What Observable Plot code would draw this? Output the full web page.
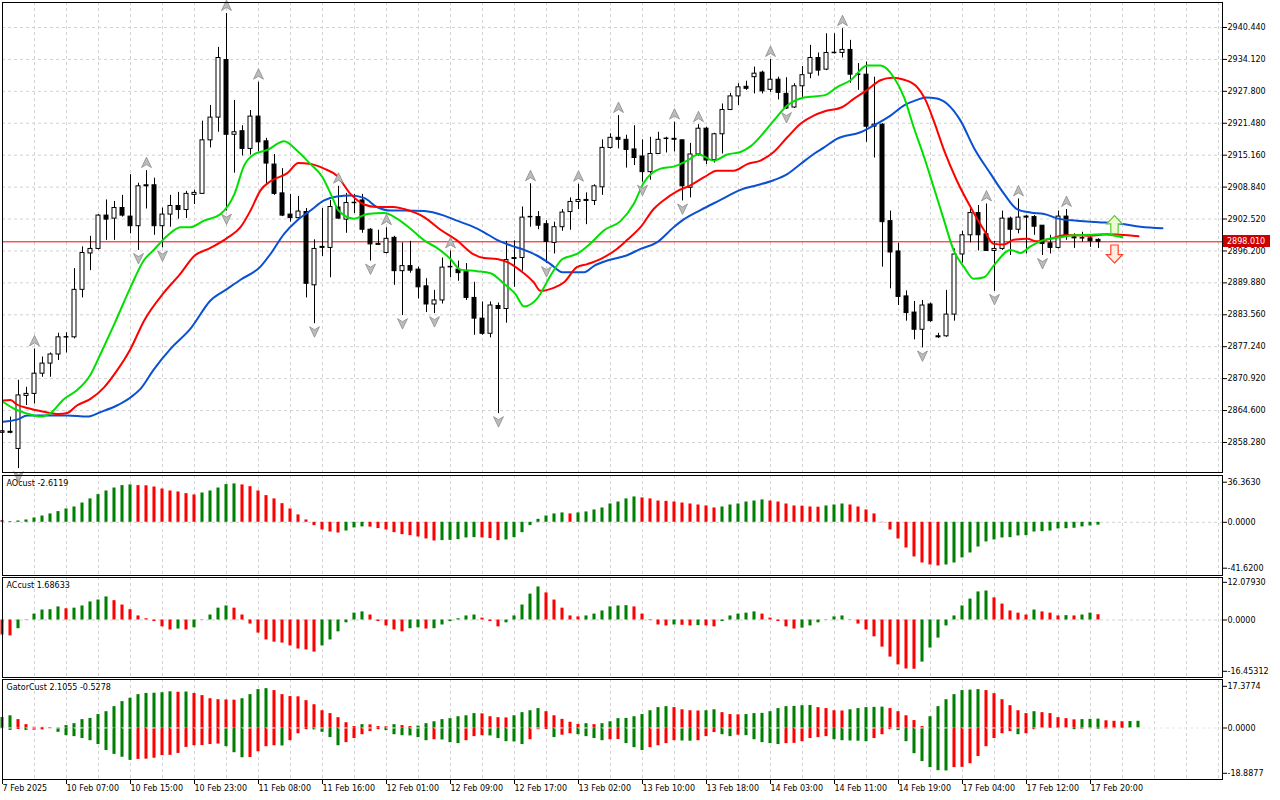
<!DOCTYPE html>
<html><head><meta charset="utf-8">
<script src="https://cdn.jsdelivr.net/npm/d3@7"></script>
<script src="https://cdn.jsdelivr.net/npm/@observablehq/plot@0.6"></script>
<style>
html,body{margin:0;padding:0;background:#fff;}
#wrap{position:relative;width:1280px;height:800px;overflow:hidden;background:#fff;}
#wrap svg{position:absolute;left:0;}
</style></head><body><div id="wrap"></div>
<script>
// ---------- DATA ----------
const open = [2860.2,2860.4,2857.0,2867.5,2867.9,2871.9,2873.9,2875.7,2879.1,2879.1,
2888.5,2895.7,2896.6,2903.2,2902.6,2904.7,2903.0,2901.1,2909.2,2909.2,
2901.1,2903.4,2905.1,2904.3,2907.3,2907.5,2918.1,2922.6,2934.0,2919.2,
2919.9,2916.4,2922.8,2917.9,2913.3,2907.6,2903.4,2902.7,2903.9,2889.4,
2896.8,2896.8,2904.8,2902.4,2905.9,2906.2,2900.4,2897.6,2895.8,2898.8,
2892.2,2893.2,2892.5,2889.2,2885.6,2886.4,2893.0,2892.5,2892.0,2886.9,
2882.8,2879.8,2885.3,2884.7,2894.6,2894.8,2902.9,2902.9,2901.5,2897.8,
2900.9,2903.9,2905.9,2906.3,2906.1,2908.8,2916.6,2918.6,2918.2,2916.3,
2914.9,2911.8,2915.4,2918.4,2918.2,2918.1,2908.7,2915.3,2920.4,2914.2,
2919.3,2924.1,2926.8,2928.7,2930.6,2931.5,2928.1,2930.1,2927.3,2924.6,
2928.8,2931.3,2934.4,2932.1,2935.4,2935.4,2936.0,2931.1,2931.1,2920.8,
2921.2,2902.1,2896.1,2887.2,2884.0,2880.6,2885.6,2879.3,2879.3,2883.6,
2895.5,2899.3,2903.7,2899.5,2896.2,2896.6,2902.6,2900.4,2903.0,2902.9,
2901.2,2897.7,2896.8,2903.0,2898.9,2898.7,2898.7,2898.4];
const high = [2860.8,2863.3,2870.6,2869.2,2876.8,2875.2,2876.0,2879.9,2880.0,2892.7,
2897.0,2899.1,2903.4,2906.3,2906.0,2907.2,2911.3,2909.6,2912.1,2910.6,
2904.7,2907.2,2907.8,2908.0,2908.2,2921.9,2925.0,2936.5,2943.2,2926.0,
2921.0,2924.0,2929.6,2918.5,2915.3,2912.5,2907.4,2907.0,2904.6,2898.4,
2904.6,2906.2,2909.0,2907.6,2907.4,2907.4,2900.6,2900.3,2900.8,2899.1,
2897.8,2898.1,2893.0,2890.7,2888.4,2894.8,2896.2,2894.2,2893.7,2890.0,
2886.1,2886.1,2885.9,2898.1,2898.2,2904.9,2909.5,2904.0,2902.2,2901.9,
2904.4,2906.7,2909.4,2907.7,2909.3,2918.2,2919.4,2923.0,2919.1,2921.0,
2918.2,2918.7,2919.7,2918.7,2921.7,2918.2,2917.5,2921.2,2920.7,2919.5,
2925.3,2927.4,2929.3,2929.8,2932.6,2931.8,2934.1,2930.6,2930.5,2929.3,
2932.7,2936.9,2935.4,2939.2,2939.2,2940.2,2937.9,2933.3,2933.6,2930.6,
2921.4,2904.1,2897.7,2888.3,2886.2,2886.4,2885.9,2879.9,2888.4,2896.6,
2900.1,2904.9,2905.2,2905.5,2898.1,2904.1,2902.9,2906.5,2903.2,2903.2,
2901.2,2899.3,2904.1,2904.4,2899.6,2899.9,2899.2,2898.6];
const low = [2860.0,2860.0,2853.1,2865.6,2865.9,2871.2,2871.2,2874.5,2876.0,2878.8,
2886.9,2892.3,2896.4,2898.3,2898.3,2902.9,2899.6,2896.3,2904.5,2899.3,
2896.8,2900.9,2902.5,2902.6,2905.4,2907.4,2916.6,2919.7,2904.1,2911.6,
2915.0,2915.2,2915.8,2909.2,2907.2,2903.0,2901.9,2902.5,2886.9,2881.8,
2895.1,2890.9,2902.5,2899.7,2903.6,2899.7,2894.2,2897.3,2895.6,2889.4,
2883.4,2891.8,2886.7,2884.0,2883.8,2885.7,2890.9,2890.2,2886.4,2879.5,
2879.5,2879.0,2864.0,2881.9,2889.0,2892.2,2900.9,2900.4,2893.7,2895.6,
2900.1,2900.3,2904.4,2901.4,2905.2,2907.2,2916.4,2916.4,2912.6,2913.1,
2909.8,2910.2,2915.4,2915.6,2915.8,2906.1,2906.7,2914.9,2913.3,2913.6,
2915.4,2924.0,2925.0,2928.0,2927.3,2927.3,2927.6,2926.1,2924.2,2924.4,
2926.6,2930.3,2930.8,2931.9,2935.2,2934.4,2929.4,2928.0,2917.7,2914.6,
2893.0,2888.7,2885.4,2882.3,2878.6,2877.0,2882.1,2878.9,2879.1,2882.3,
2893.8,2897.8,2896.2,2896.2,2888.2,2896.3,2895.3,2899.6,2895.6,2899.3,
2895.3,2895.6,2896.6,2898.3,2896.7,2897.9,2896.9,2896.7];
const close = [2860.5,2860.2,2867.6,2867.9,2871.9,2873.9,2875.7,2879.1,2879.2,2888.5,
2895.8,2896.6,2903.2,2902.4,2904.7,2903.2,2901.1,2909.0,2909.0,2901.1,
2903.4,2905.1,2904.3,2907.5,2907.7,2918.1,2922.6,2934.4,2919.2,2919.7,
2916.4,2922.8,2917.7,2913.5,2907.5,2903.2,2902.7,2904.0,2889.7,2896.6,
2897.0,2904.9,2902.6,2905.7,2905.8,2900.4,2897.5,2897.4,2898.6,2892.2,
2893.2,2892.3,2889.0,2885.6,2886.4,2892.9,2893.1,2891.8,2886.9,2882.8,
2879.8,2885.4,2884.7,2894.4,2894.8,2902.8,2903.0,2901.2,2898.0,2900.9,
2903.8,2905.9,2906.3,2906.1,2909.0,2916.6,2918.6,2918.2,2916.2,2914.6,
2911.8,2915.4,2918.2,2918.5,2918.4,2909.0,2915.3,2920.4,2914.1,2919.3,
2924.1,2926.8,2928.6,2928.3,2931.3,2927.8,2930.1,2927.5,2924.4,2928.8,
2931.0,2934.4,2931.9,2935.4,2935.5,2936.0,2931.1,2931.2,2920.8,2921.2,
2901.9,2895.9,2887.1,2883.9,2880.6,2885.4,2882.3,2879.1,2883.6,2895.5,
2899.3,2903.7,2899.3,2896.2,2896.6,2902.6,2900.4,2902.8,2902.8,2901.0,
2897.6,2896.8,2903.0,2899.3,2898.7,2898.8,2898.1,2898.0];

// Alligator lines, read as [bar index, price]
const jawPts = [[0.1,2862.4],[1.8,2862.8],[3.1,2863.6],[5.6,2863.6],[8.1,2863.6],[10.6,2863.4],[12.25,2864.3],[14.3,2865.6],[16,2867.2],[17.25,2868.9],[18.9,2872.7],[21,2876.8],[23.5,2880.8],[26,2886.4],[28.1,2888.7],[29.75,2890.5],[32.25,2893.1],[33.5,2895.6],
[35.2,2899.6],[36.8,2902.2],[38.5,2904.2],[40.2,2906.2],[41.8,2907.0],[43.5,2907.2],[45.2,2906.7],[46.8,2904.9],[48.5,2904.2],[50.2,2904.2],[52.7,2904.1],[55.2,2903.2],[56.8,2902.2],[58.5,2901.2],[60.2,2899.9],[61.8,2898.4],[63.5,2897.3],[65.2,2896.4],[66.8,2895.3],[68.5,2893.6],
[70,2892.0],[72.7,2892.0],[74,2893.3],[75.6,2894.3],[78,2895.3],[79.75,2896.6],[81.8,2897.9],[83.9,2900.9],[85.2,2902.5],[87.25,2904.3],[89.75,2906.3],[92.25,2908.3],[94.3,2909.2],[96.4,2910.2],[98.1,2911.4],[99.75,2913.4],[101.4,2915.4],
[102.7,2916.7],[104.3,2918.4],[107.25,2919.7],[109.3,2921.4],[111,2923.0],[112.7,2925.0],[114.3,2926.1],[115.4,2926.6],[116.8,2926.4],[118.1,2925.3],[119.75,2922.0],[121.4,2916.7],[123.5,2911.5],[125.2,2907.5],[126.8,2904.5],[128.5,2903.8],[130.2,2903.5],[132.25,2902.5],[134.3,2902.2],[136,2902.0],
[137,2901.9],[139.75,2901.6],[142.25,2901.0],[145,2900.7]];
const teethPts = [[0.1,2866.6],[1,2866.7],[1.8,2865.8],[3.1,2865.1],[5,2864.4],[7,2863.9],[8.1,2864.1],[9.3,2865.6],[11,2866.9],[12.7,2869.2],[14.3,2872.5],[16,2876.8],[17.7,2882.4],[20.2,2888.0],[22.25,2891.7],[23.9,2895.1],[26,2896.8],[28.1,2898.8],[29.75,2900.9],[31,2904.2],[32.25,2908.2],[33.5,2910.0],
[35.6,2911.6],[37,2913.6],[38.5,2913.4],[40.2,2912.5],[41.8,2911.1],[43.5,2907.5],[45.2,2905.4],[46.8,2904.9],[48.9,2904.9],[50.2,2904.5],[52.7,2902.9],[54.75,2900.4],[56.8,2898.3],[58.9,2895.5],[60.2,2894.8],[61.8,2894.6],[63.1,2894.0],[64.75,2892.3],[66.4,2890.0],[67.25,2888.3],[68.9,2888.9],
[70.2,2890.0],[71.8,2893.0],[73.1,2893.6],[74.75,2894.6],[76.8,2896.6],[78.1,2898.4],[79.75,2900.9],[81.4,2904.5],[82.7,2906.3],[84.3,2908.0],[86,2909.2],[87.7,2910.8],[89.3,2912.1],[91.4,2912.1],[93.1,2913.4],[94.75,2914.1],[96.4,2915.8],[98.1,2918.7],[99.75,2921.4],[101.4,2923.0],
[102.7,2923.8],[105,2924.7],[106.4,2926.3],[108.1,2928.1],[109.75,2930.0],[111.2,2930.5],[112.7,2930.1],[114.1,2929.0],[115.4,2926.0],[116.4,2922.0],[117.7,2916.1],[119.3,2910.1],[121,2904.9],[122.7,2900.3],[123.9,2897.6],[125.2,2897.5],[126.4,2898.4],[128.1,2898.6],[129.3,2898.1],[131,2898.6],[132.7,2899.3],[134.3,2899.3],[136,2899.2],
[138,2899.5],[139.75,2899.4],[142,2899.1]];
const lipsPts = [[0.1,2866.3],[1.3,2865.1],[3.1,2864.0],[4.75,2863.4],[6,2864.1],[7.7,2866.9],[9.3,2868.6],[11,2871.7],[12.25,2875.8],[14,2881.8],[16,2889.0],[17.7,2894.4],[18.9,2896.4],[20.6,2899.2],[22.25,2900.9],[23.5,2900.9],[25.2,2902.2],[27.25,2903.5],[29,2907.5],[30.2,2913.1],[31.4,2915.3],[33.1,2916.2],
[35.2,2917.9],[36.8,2916.1],[38.5,2913.4],[40,2910.8],[41.2,2906.9],[42,2904.2],[43.9,2902.6],[45.6,2903.5],[47.7,2903.7],[49.3,2902.6],[51,2900.6],[52.7,2898.3],[54.3,2896.8],[56,2894.6],[57.25,2892.5],[59.3,2892.2],[61,2891.8],[62.7,2889.7],[64.1,2887.7],[65.2,2885.2],[66.8,2886.7],
[68.5,2891.3],[70,2894.6],[71.8,2895.6],[73.5,2897.7],[75.2,2900.3],[77.25,2902.1],[78.9,2905.5],[80.2,2909.8],[82.25,2912.5],[83.9,2912.9],[85.6,2914.1],[87,2915.3],[88.9,2914.1],[90.6,2915.3],[92.25,2915.8],[93.5,2916.9],[95.2,2919.7],[96.4,2922.0],[98.1,2925.0],[100.2,2926.6],
[102.7,2927.0],[104.3,2928.6],[106,2930.0],[108.1,2932.9],[109.75,2932.9],[111.4,2930.6],[112.7,2926.6],[113.9,2920.7],[115.2,2914.8],[116.4,2908.8],[117.7,2902.2],[118.9,2896.3],[120.2,2893.0],[121.4,2890.7],[122.7,2891.0],[123.9,2893.3],[126,2896.4],[127.25,2895.8],[128.5,2897.1],[130.2,2898.4],[131.8,2898.8],[133.9,2899.3],[136,2899.4],
[137.5,2899.5],[140,2898.9]];

const fractalUp = [4,18,28,32,42,48,56,66,72,77,84,87,96,105,123,127,133];
const fractalDown = [2,17,20,28,39,46,50,54,62,68,80,85,98,115,124,130];
const signals = [{i:139, price:2901.4, dir:"up"}, {i:139, price:2895.6, dir:"down"}];
const lastPrice = 2898.01;

const priceTicks = [2858.28,2864.60,2870.92,2877.24,2883.56,2889.88,2896.20,2902.52,2908.84,2915.16,2921.48,2927.80,2934.12,2940.44];

const ao = [1.5,0.6,1.2,2.1,3.9,5.7,7.6,9.7,12.1,13.9,
17.5,21.2,25.1,28.4,31.1,33.3,33.9,33.3,33.1,32.0,
30.2,28.4,27.5,26.0,24.8,26.6,28.4,31.1,34.2,34.8,
33.9,32.3,28.4,24.2,21.2,16.9,12.1,6.7,2.1,-3.0,
-7.0,-8.8,-9.7,-7.9,-5.1,-4.2,-4.4,-5.7,-7.0,-9.4,
-11.2,-12.1,-13.3,-15.1,-16.9,-16.6,-16.4,-15.7,-14.2,-13.9,
-14.1,-14.8,-16.6,-16.0,-13.9,-9.4,-3.0,2.7,5.7,7.6,
8.5,7.6,8.5,9.4,11.2,13.0,16.6,18.4,21.2,23.0,
22.1,21.2,19.3,19.0,18.4,17.5,16.6,15.7,14.8,13.0,
13.9,15.7,16.6,18.4,19.3,20.3,19.3,18.4,16.6,14.8,
14.6,13.9,13.7,14.8,15.7,16.6,15.7,13.9,11.2,7.6,
-0.3,-7.0,-15.1,-23.3,-31.4,-36.9,-38.7,-39.6,-38.7,-36.9,
-32.3,-27.8,-22.4,-17.8,-16.0,-14.2,-13.9,-12.4,-12.1,-8.8,
-8.5,-7.9,-6.0,-5.8,-5.4,-4.2,-3.3,-2.6];
const ac = [-4.8,-5.1,-2.8,0.1,1.9,3.2,3.3,4.2,3.6,3.8,
4.5,5.8,6.4,7.4,6.2,4.8,3.3,1.3,0.4,-0.5,
-2.2,-3.2,-2.9,-3.2,-2.5,-0.1,1.6,3.8,4.5,3.8,
1.6,-1.3,-4.2,-6.4,-7.1,-7.4,-8.3,-9.3,-9.6,-10.3,
-8.3,-6.4,-3.8,-0.9,2.2,2.6,1.6,-0.5,-1.9,-3.2,
-3.8,-2.8,-2.5,-2.9,-2.8,-1.6,-0.5,0.4,1.3,1.6,
0.6,-0.5,-2.2,-0.9,1.3,4.8,8.3,10.6,8.7,6.4,
3.8,1.3,1.0,1.3,1.9,2.9,4.2,4.5,4.6,4.2,
1.9,-0.2,-1.6,-1.9,-1.6,-1.7,-1.9,-1.8,-1.9,-2.2,
-0.5,1.3,1.9,2.2,2.6,1.9,0.6,-0.5,-2.2,-2.9,
-2.6,-1.9,-0.9,-0.1,1.0,1.3,-0.1,-1.3,-3.2,-5.4,
-8.7,-11.9,-14.4,-15.7,-15.8,-13.5,-9.0,-5.8,-1.9,1.3,
4.5,6.7,9.0,9.3,7.1,5.1,2.9,2.2,1.6,3.2,
2.6,2.2,1.3,1.4,1.3,1.6,2.2,1.69];
const gatorUp = [4.4,5.1,3.5,1.4,0.3,0.25,0.1,0.0,1.0,1.8,
3.5,4.0,5.6,6.8,8.9,11.0,12.4,13.9,14.4,14.5,
14.7,15.1,14.9,15.0,14.4,13.5,12.2,11.8,11.7,11.6,
12.2,13.9,16.0,16.4,15.6,13.9,13.1,13.0,11.4,9.7,
7.2,6.0,4.3,2.2,0.6,1.4,1.3,0.6,0.5,1.4,
1.0,0.6,0.8,1.8,2.6,3.5,3.9,4.7,5.1,6.0,
5.9,4.7,4.3,4.2,5.1,6.4,7.2,8.1,6.8,5.1,
3.6,2.4,1.5,1.8,1.4,1.8,2.6,3.9,4.0,4.7,
5.6,7.2,8.5,8.9,8.5,7.6,7.2,7.1,7.2,7.6,
6.4,5.6,5.5,5.6,6.0,6.1,6.8,8.1,8.9,9.0,
9.3,9.4,8.5,8.1,7.2,7.1,7.6,8.1,8.5,8.6,
8.7,8.1,6.8,5.1,3.1,0.6,4.7,8.9,11.8,13.9,
15.6,15.8,16.0,15.6,14.3,11.8,9.3,7.2,6.0,6.8,
6.4,6.0,4.3,3.9,3.4,3.5,3.6,3.7,3.0,2.8,
2.6,2.7,2.8];
const gatorDown = [0.3,1.0,0.6,1.0,0.9,0.8,0.3,1.8,3.2,3.6,
4.4,5.3,6.9,9.4,11.0,12.2,13.5,13.1,13.0,12.6,
11.5,11.4,10.6,8.1,7.4,7.3,6.9,6.7,7.8,10.3,
12.4,12.3,9.9,7.8,7.4,7.5,5.3,2.4,0.7,0.8,
1.8,4.0,7.4,6.1,4.4,2.8,1.5,0.7,1.1,2.8,
3.2,3.3,4.0,5.3,4.9,5.0,6.1,6.5,5.3,3.6,
3.2,3.3,4.4,5.7,5.8,6.9,4.9,0.7,0.6,4.0,
3.0,2.4,2.8,3.6,4.4,5.3,4.9,4.8,6.5,8.2,
9.4,8.2,7.4,6.5,5.3,5.4,5.5,5.3,3.6,1.9,
2.8,3.6,3.0,3.2,4.9,6.1,6.5,6.9,6.5,6.4,
5.7,4.4,4.0,3.6,4.9,5.3,5.4,5.5,5.7,4.4,
2.8,0.7,1.1,5.7,10.7,14.0,16.5,17.8,17.9,16.5,
16.4,14.9,11.9,7.8,4.4,2.4,1.5,2.8,2.4,0.7,
0.1,0.2,0.1,0.05,0.7,0.5,0.3,0.5,0.4,0.3,
0.2];

const aoTicks = [36.363, 0, -41.62], aoTickText = ["36.3630","0.0000","-41.6200"];
const acTicks = [12.0793, 0, -16.45312], acTickText = ["12.07930","0.0000","-16.45312"];
const gatorTicks = [17.3774, 0, -18.8877], gatorTickText = ["17.3774","0.0000","-18.8877"];

const timeIdx = [0,8,16,24,32,40,48,56,64,72,80,88,96,104,112,120,128,136];
const timeLabels = ["7 Feb 2025","10 Feb 07:00","10 Feb 15:00","10 Feb 23:00","11 Feb 08:00","11 Feb 16:00","12 Feb 01:00","12 Feb 09:00","12 Feb 17:00","13 Feb 02:00","13 Feb 10:00","13 Feb 18:00","14 Feb 03:00","14 Feb 11:00","14 Feb 19:00","17 Feb 04:00","17 Feb 12:00","17 Feb 20:00"];

// ---------- BUILD ----------
const GREEN = "#008000", RED = "#ff0000";
const GRID = "#d2d2d2";
const FONT = '"DejaVu Sans", sans-serif';
function trendColors(vals, startUp) {
  let up = startUp;
  return vals.map((v, i) => {
    if (i > 0) { if (v > vals[i-1]) up = true; else if (v < vals[i-1]) up = false; }
    return up ? GREEN : RED;
  });
}
const candles = open.map((o, i) => ({i, open:o, high:high[i], low:low[i], close:close[i]}));
const gridIdx = d3.range(4, 153, 4);
const XDOM = [0, 152.5];
const style = {fontFamily: FONT, fontSize: "8px", background: "transparent", overflow: "visible", color: "black"};
const wrap = document.getElementById("wrap");

function sym(points) {
  return {draw(ctx, size) {
    const s = Math.sqrt(size / Math.PI);
    points.forEach(([px, py], k) => k ? ctx.lineTo(px*s, py*s) : ctx.moveTo(px*s, py*s));
    ctx.closePath();
  }};
}
const fracUpSym = sym([[0,-1],[0.9,0.9],[0,0.35],[-0.9,0.9]]);
const fracDnSym = sym([[0,1],[0.9,-0.9],[0,-0.35],[-0.9,-0.9]]);
const blockUpSym = sym([[0,-1],[0.9,-0.08],[0.41,-0.08],[0.41,1],[-0.41,1],[-0.41,-0.08],[-0.9,-0.08]]);
const blockDnSym = sym([[0,1],[0.9,0.08],[0.41,0.08],[0.41,-1],[-0.41,-1],[-0.41,0.08],[-0.9,0.08]]);

function place(svg, top) { svg.style.top = top + "px"; wrap.appendChild(svg); return svg; }

// Main price panel
const main = Plot.plot({
  width: 1280, height: 474, marginLeft: 2, marginRight: 58, marginTop: 2, marginBottom: 2,
  style, color: {type: "identity"},
  x: {domain: XDOM, axis: null},
  y: {domain: [2852.337, 2945.389], label: null},
  marks: [
    Plot.ruleX(gridIdx, {stroke: GRID, strokeDasharray: "3,3"}),
    Plot.ruleY(priceTicks, {stroke: GRID, strokeDasharray: "3,3"}),
    Plot.ruleY([lastPrice], {stroke: "#ff0000", strokeWidth: 1}),
    Plot.ruleX(candles, {x: "i", y1: "low", y2: "high", stroke: "black"}),
    Plot.rect(candles.filter(d => Math.abs(d.close - d.open) >= 0.15), {
      x1: d => d.i - 0.25, x2: d => d.i + 0.25, y1: "open", y2: "close",
      fill: d => d.close >= d.open ? "white" : "black", stroke: "black", strokeWidth: 1}),
    Plot.ruleY(candles.filter(d => Math.abs(d.close - d.open) < 0.15), {
      x1: d => d.i - 0.3, x2: d => d.i + 0.3, y: "close", stroke: "black", strokeWidth: 1.5}),
    Plot.line(jawPts, {x: d => d[0], y: d => d[1], stroke: "#0a50d2", strokeWidth: 2, curve: "monotone-x"}),
    Plot.line(teethPts, {x: d => d[0], y: d => d[1], stroke: "#ff0000", strokeWidth: 2, curve: "monotone-x"}),
    Plot.line(lipsPts, {x: d => d[0], y: d => d[1], stroke: "#00e000", strokeWidth: 2, curve: "monotone-x"}),
    Plot.dot(fractalUp.map(i => candles[i]), {x: "i", y: "high", dy: -8, r: 5.5, symbol: fracUpSym, fill: "#bcbcbc", stroke: "#8a8a8a", strokeWidth: 0.8}),
    Plot.dot(fractalDown.map(i => candles[i]), {x: "i", y: "low", dy: 8, r: 5.5, symbol: fracDnSym, fill: "#bcbcbc", stroke: "#8a8a8a", strokeWidth: 0.8}),
    Plot.dot(signals.filter(d => d.dir === "up"), {x: "i", y: "price", r: 9, symbol: blockUpSym, fill: "#eefad0", stroke: "#5cc83c", strokeWidth: 1.2}),
    Plot.dot(signals.filter(d => d.dir === "down"), {x: "i", y: "price", r: 9, symbol: blockDnSym, fill: "#ffeedd", stroke: "#ff4030", strokeWidth: 1.2}),
    Plot.frame({stroke: "black"}),
    Plot.axisY(priceTicks, {anchor: "right", tickSize: 4, tickPadding: 1, tickFormat: d => d.toFixed(3), label: null})
  ]
});
place(main, 0);
{
  const yv = main.scale("y").apply(lastPrice);
  const s = d3.select(main);
  s.append("rect").attr("x", 1223).attr("y", Math.round(yv) - 6).attr("width", 47).attr("height", 12).attr("fill", "#cc0000");
  s.append("text").attr("x", 1227).attr("y", yv).attr("dy", "0.34em").attr("fill", "white")
    .attr("text-anchor", "start").style("text-anchor", "start")
    .attr("font-family", FONT).attr("font-size", 8).text(lastPrice.toFixed(3));
}

function histPanel(vals, colors, domain, ticks, tickText, title, height, marginBottom) {
  const rows = vals.map((v, i) => ({i, v, c: colors[i]}));
  const marks = [
    Plot.ruleX(gridIdx, {stroke: GRID, strokeDasharray: "3,3"}),
    Plot.ruleY([0], {stroke: GRID, strokeDasharray: "3,3"}),
    Plot.rect(rows, {x1: d => d.i - 0.19, x2: d => d.i + 0.19, y1: d => 0, y2: "v", fill: "c"}),
    Plot.text([title], {frameAnchor: "top-left", dx: 4, dy: 5, text: d => d, fill: "black", fontSize: 8}),
    Plot.frame({stroke: "black"}),
    Plot.axisY(ticks, {anchor: "right", tickSize: 4, tickPadding: 1, tickFormat: d => tickText[ticks.indexOf(d)], label: null})
  ];
  return {marks, opts: {width: 1280, height, marginLeft: 2, marginRight: 58, marginTop: 1, marginBottom,
    style, color: {type: "identity"}, y: {domain, label: null}}};
}

// AO
{
  const p = histPanel(ao, trendColors(ao, false), [-48.24, 42.44], aoTicks, aoTickText, "AOcust -2.6119", 102, 1);
  place(Plot.plot({...p.opts, x: {domain: XDOM, axis: null}, marks: p.marks}), 474);
}
// AC
{
  const p = histPanel(ac, trendColors(ac, false), [-18.44, 13.63], acTicks, acTickText, "ACcust 1.68633", 102, 1);
  place(Plot.plot({...p.opts, x: {domain: XDOM, axis: null}, marks: p.marks}), 576);
}
// Gator
{
  const upRows = gatorUp.map((v, i) => ({i, v}));
  const dnRows = gatorDown.map((v, i) => ({i, v: -v}));
  const upCol = trendColors(gatorUp, true), dnCol = trendColors(gatorDown, true);
  const marks = [
    Plot.ruleX(gridIdx, {stroke: GRID, strokeDasharray: "3,3"}),
    Plot.rect(upRows, {x1: d => d.i - 0.19, x2: d => d.i + 0.19, y1: d => 0, y2: "v", fill: d => upCol[d.i]}),
    Plot.rect(dnRows, {x1: d => d.i - 0.19, x2: d => d.i + 0.19, y1: d => 0, y2: "v", fill: d => dnCol[d.i]}),
    Plot.ruleY([0], {stroke: "#e8e8e8", strokeDasharray: "3,3"}),
    Plot.text(["GatorCust 2.1055 -0.5278"], {frameAnchor: "top-left", dx: 4, dy: 5, text: d => d, fill: "black", fontSize: 8}),
    Plot.frame({stroke: "black"}),
    Plot.axisY(gatorTicks, {anchor: "right", tickSize: 4, tickPadding: 1, tickFormat: d => gatorTickText[gatorTicks.indexOf(d)], label: null}),
    Plot.axisX(timeIdx, {anchor: "bottom", tickSize: 5, tickPadding: 1, textAnchor: "start", tickFormat: d => timeLabels[timeIdx.indexOf(d)], label: null})
  ];
  place(Plot.plot({width: 1280, height: 122, marginLeft: 2, marginRight: 58, marginTop: 1, marginBottom: 21,
    style, color: {type: "identity"}, x: {domain: XDOM}, y: {domain: [-21.47, 20.22], label: null}, marks}), 678);
}
</script>
</body></html>
